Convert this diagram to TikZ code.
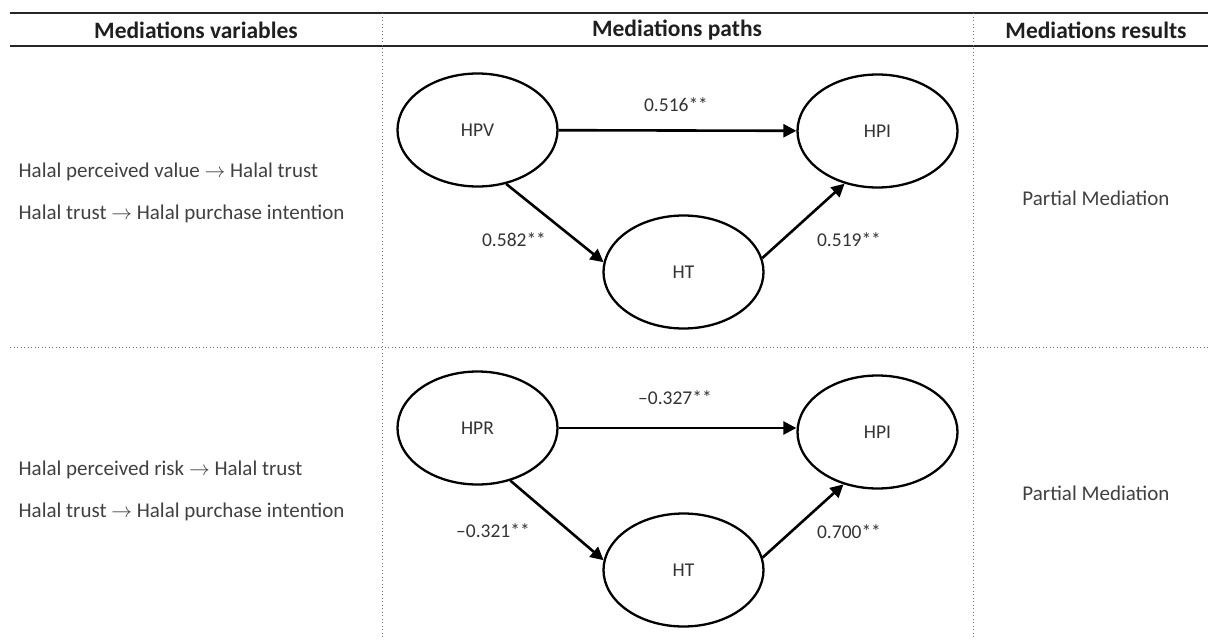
\documentclass[tikz,border=0pt]{standalone}
\usepackage{fontspec}
\setmainfont{Carlito}
\usetikzlibrary{arrows.meta,shapes.geometric}

\tikzset{
  latent/.style={ellipse,draw,line width=2.3pt,minimum width=160pt,minimum height=113pt,inner sep=0pt,font=\fontsize{19.5}{22}\selectfont,text=black!80},
  coef/.style={font=\fontsize{19.5}{22}\selectfont,text=black!80},
  cell/.style={font=\fontsize{21}{25}\selectfont,text=black!75,anchor=west},
  head/.style={font=\fontsize{23.5}{27}\selectfont\bfseries,text=black!88},
  rule/.style={line width=2.5pt,black!85},
  sep/.style={line width=0.9pt,black!55,dash pattern=on 1pt off 2.5pt},
}

\begin{document}
\begin{tikzpicture}[x=1pt,y=-1pt,line width=2.6pt,>={Triangle[length=13pt,width=13pt]}]
  \useasboundingbox (0,0) rectangle (1208,640);
  % table lines
  \draw[rule] (10,13) -- (1208,13);
  \draw[rule] (10,46) -- (1208,46);
  \draw[sep] (382,13) -- (382,640);
  \draw[sep] (973,13) -- (973,640);
  \draw[sep] (10,347) -- (1208,347);
  % headers
  \node[head] (hvar) at (196,30) {Mediations variables};
  \node[head] (hpath) at (677,30) {Mediations paths};
  \node[head] (hres) at (1096,30) {Mediations results};
  % first row
  \node[cell] (var1a) at (14,172) {Halal perceived value $\rightarrow$ Halal trust};
  \node[cell] (var1b) at (14,214) {Halal trust $\rightarrow$ Halal purchase intention};
  \node[latent] (hpv) at (477.5,130) {HPV};
  \node[latent] (hpi1) at (877.5,131) {HPI};
  \node[latent] (ht1) at (683.5,272) {HT};
  \draw[->] (hpv) -- (hpi1);
  \draw[->] (hpv.-62) -- (ht1.173);
  \draw[->] (ht1.10) -- (hpi1.-122);
  \node[coef] (c1a) at (676,105) {0.516**};
  \node[coef] (c1b) at (514,240) {0.582**};
  \node[coef] (c1c) at (849,240) {0.519**};
  \node[cell,anchor=center] (res1) at (1096,198) {Partial Mediation};
  % second row
  \node[cell] (var2a) at (14,470) {Halal perceived risk $\rightarrow$ Halal trust};
  \node[cell] (var2b) at (14,512) {Halal trust $\rightarrow$ Halal purchase intention};
  \node[latent] (hpr) at (477.5,428) {HPR};
  \node[latent] (hpi2) at (877.5,432) {HPI};
  \node[latent] (ht2) at (683.5,570) {HT};
  \draw[->] (hpr.east) -- (hpi2.west |- hpr.east);
  \draw[->] (hpr.-58) -- (ht2.173);
  \draw[->] (ht2.9) -- (hpi2.-123);
  \node[coef] (c2a) at (675,398) {–0.327**};
  \node[coef] (c2b) at (493,531) {–0.321**};
  \node[coef] (c2c) at (849,532) {0.700**};
  \node[cell,anchor=center] (res2) at (1096,493) {Partial Mediation};
\end{tikzpicture}
\end{document}
